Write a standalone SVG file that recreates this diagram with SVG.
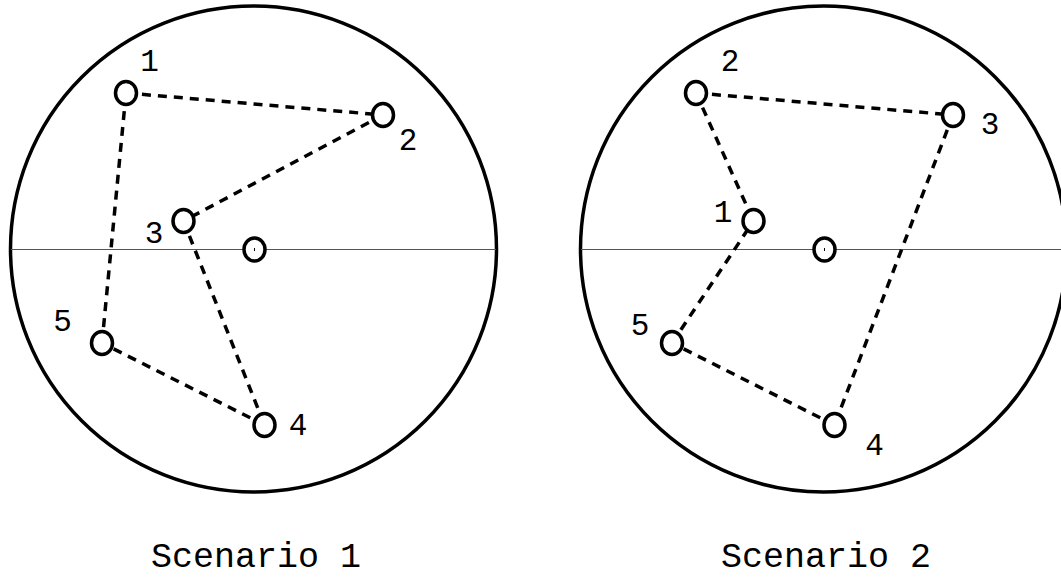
<svg xmlns="http://www.w3.org/2000/svg" width="1061" height="579" viewBox="0 0 1061 579">
<style>
.big{fill:none;stroke:#000;stroke-width:3.5}
.axis{stroke:#555;stroke-width:1.2}
.node{fill:#fff;stroke:#000;stroke-width:3.5}
.edge{stroke:#000;stroke-width:3.5;stroke-dasharray:9 7;fill:none}
.lbl{font-family:"Liberation Mono","Courier New",monospace;font-size:31px;fill:#000;text-anchor:middle}
.title{font-family:"Liberation Mono","Courier New",monospace;font-size:35px;fill:#000;text-anchor:middle}
</style>
<rect width="1061" height="579" fill="#fff"/>
<g id="scenario1-frame">
<circle class="big" cx="253.5" cy="249" r="243"/>
<line class="axis" x1="11" y1="249.5" x2="496" y2="249.5"/>
</g>
<g id="scenario2-frame">
<circle class="big" cx="823.5" cy="249" r="243"/>
<line class="axis" x1="581" y1="249.5" x2="1061" y2="249.5"/>
</g>
<g id="connectors">
<line class="edge" x1="126" y1="93" x2="383" y2="115"/>
<line class="edge" x1="383" y1="115" x2="183.5" y2="221"/>
<line class="edge" x1="183.5" y1="221" x2="264.5" y2="425"/>
<line class="edge" x1="264.5" y1="425" x2="102" y2="343"/>
<line class="edge" x1="102" y1="343" x2="126" y2="93"/>
<line class="edge" x1="696" y1="93" x2="953" y2="115"/>
<line class="edge" x1="696" y1="93" x2="753.5" y2="221"/>
<line class="edge" x1="953" y1="115" x2="834.5" y2="425"/>
<line class="edge" x1="834.5" y1="425" x2="672" y2="343"/>
<line class="edge" x1="672" y1="343" x2="753.5" y2="221"/>
</g>
<g id="s1-center"><ellipse class="node" cx="254.5" cy="249.5" rx="10.5" ry="11.5"/><line x1="254.5" y1="248" x2="254.5" y2="251" stroke="#000" stroke-width="1"/></g>
<g id="s1-n1"><ellipse class="node" cx="126" cy="93" rx="10.5" ry="11.5"/><text class="lbl" x="149.5" y="71">1</text></g>
<g id="s1-n2"><ellipse class="node" cx="383" cy="115" rx="10.5" ry="11.5"/><text class="lbl" x="408" y="150">2</text></g>
<g id="s1-n3"><ellipse class="node" cx="183.5" cy="221" rx="10.5" ry="11.5"/><text class="lbl" x="154" y="243">3</text></g>
<g id="s1-n4"><ellipse class="node" cx="264.5" cy="425" rx="10.5" ry="11.5"/><text class="lbl" x="298" y="435">4</text></g>
<g id="s1-n5"><ellipse class="node" cx="102" cy="343" rx="10.5" ry="11.5"/><text class="lbl" x="62.5" y="331">5</text></g>
<g id="s2-center"><ellipse class="node" cx="824.5" cy="249.5" rx="10.5" ry="11.5"/><line x1="824.5" y1="248" x2="824.5" y2="251" stroke="#000" stroke-width="1"/></g>
<g id="s2-n2"><ellipse class="node" cx="696" cy="93" rx="10.5" ry="11.5"/><text class="lbl" x="730" y="71">2</text></g>
<g id="s2-n3"><ellipse class="node" cx="953" cy="115" rx="10.5" ry="11.5"/><text class="lbl" x="990" y="134">3</text></g>
<g id="s2-n1"><ellipse class="node" cx="753.5" cy="221" rx="10.5" ry="11.5"/><text class="lbl" x="723" y="222">1</text></g>
<g id="s2-n4"><ellipse class="node" cx="834.5" cy="425" rx="10.5" ry="11.5"/><text class="lbl" x="874.5" y="455">4</text></g>
<g id="s2-n5"><ellipse class="node" cx="672" cy="343" rx="10.5" ry="11.5"/><text class="lbl" x="640" y="335">5</text></g>
<g id="titles">
<text class="title" x="256" y="567">Scenario 1</text>
<text class="title" x="826" y="567">Scenario 2</text>
</g>
</svg>
